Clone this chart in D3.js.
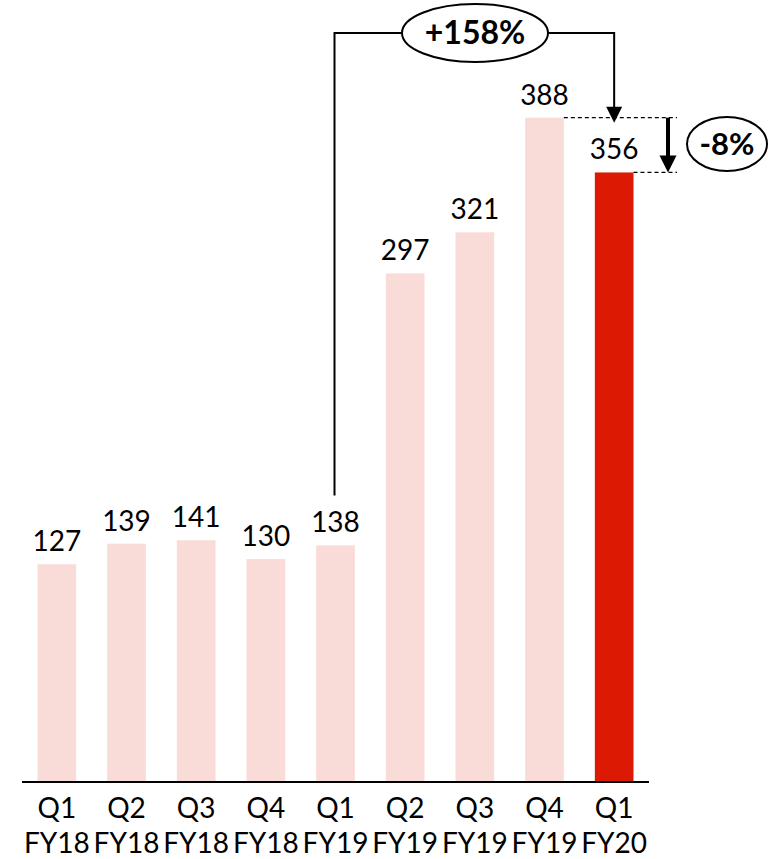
<!DOCTYPE html>
<html>
<head>
<meta charset="utf-8">
<script src="https://cdn.jsdelivr.net/npm/d3@7"></script>
<style>
  html, body { margin: 0; padding: 0; background: #fff; }
  svg { display: block; font-family: Lato, "Open Sans", sans-serif; }
</style>
</head>
<body>
<svg id="chart" width="768" height="859"></svg>
<script>
// ---- data ----
const quarters = ["Q1", "Q2", "Q3", "Q4", "Q1", "Q2", "Q3", "Q4", "Q1"];
const fiscalYears = ["FY18", "FY18", "FY18", "FY18", "FY19", "FY19", "FY19", "FY19", "FY20"];
const values = [127, 139, 141, 130, 138, 297, 321, 388, 356];
const highlightIndex = 8;
const growthLabel = "+158%";   // Q1 FY19 -> Q1 FY20
const growthFrom = 4;
const growthTo = 8;
const changeLabel = "-8%";     // Q4 FY19 -> Q1 FY20
const changeFrom = 7;
const changeTo = 8;

const lightColor = "#F9DBD7";
const darkColor = "#DC1A04";

const svg = d3.select("#chart");

const x = d3.scaleBand()
  .domain(d3.range(values.length))
  .range([22, 649])
  .paddingInner(0.445)
  .paddingOuter(0.2225);

const y = d3.scaleLinear()
  .domain([0, 388])
  .range([781.5, 117.7]);

const bw = x.bandwidth();

// bars
svg.append("g").selectAll("rect")
  .data(values)
  .join("rect")
  .attr("x", (d, i) => x(i))
  .attr("y", d => y(d))
  .attr("width", bw)
  .attr("height", d => y(0) - y(d))
  .attr("fill", (d, i) => i === highlightIndex ? darkColor : lightColor);

// value labels
svg.append("g").selectAll("text")
  .data(values)
  .join("text")
  .attr("x", (d, i) => x(i) + bw / 2)
  .attr("y", d => y(d) - 13)
  .attr("text-anchor", "middle")
  .attr("font-size", 28)
  .attr("fill", "#000")
  .text(d => d);

// x axis baseline
svg.append("line")
  .attr("x1", 22).attr("x2", 649)
  .attr("y1", y(0) + 0.5).attr("y2", y(0) + 0.5)
  .attr("stroke", "#000").attr("stroke-width", 2);

// category labels
const cat = svg.append("g").selectAll("text")
  .data(quarters)
  .join("text")
  .attr("x", (d, i) => x(i) + bw / 2)
  .attr("text-anchor", "middle")
  .attr("font-size", 28)
  .attr("fill", "#000");
cat.append("tspan").attr("x", (d, i) => x(i) + bw / 2).attr("y", 818).text(d => d);
cat.append("tspan").attr("x", (d, i) => x(i) + bw / 2).attr("y", 853).text((d, i) => fiscalYears[i]);

// ---- growth bracket annotation ----
const bx1 = x(growthFrom) + bw / 2 - 1;
const bx2 = x(growthTo) + bw / 2;
const by = 33;
const ex = 475, erx = 73, ery = 29;
const g1 = svg.append("g").attr("stroke", "#000").attr("stroke-width", 2).attr("fill", "none");
g1.append("path")
  .attr("d", `M${bx1},${y(values[growthFrom]) - 50} L${bx1},${by} L${ex - erx},${by}`);
g1.append("path")
  .attr("d", `M${ex + erx},${by} L${bx2},${by} L${bx2},${y(values[changeFrom]) - 10}`);
svg.append("path")
  .attr("d", `M${bx2 - 8},${y(values[changeFrom]) - 11} L${bx2 + 8},${y(values[changeFrom]) - 11} L${bx2},${y(values[changeFrom]) + 5} Z`)
  .attr("fill", "#000");
svg.append("ellipse")
  .attr("cx", ex).attr("cy", by).attr("rx", erx).attr("ry", ery)
  .attr("fill", "#fff").attr("stroke", "#000").attr("stroke-width", 2);
svg.append("text")
  .attr("x", ex).attr("y", by + 11)
  .attr("text-anchor", "middle")
  .attr("font-size", 32).attr("font-weight", "bold")
  .text(growthLabel);

// ---- change annotation ----
const dashEnd = 677;
const yTop = y(values[changeFrom]);
const yBot = y(values[changeTo]);
svg.append("line")
  .attr("x1", x(changeFrom) + bw).attr("x2", dashEnd)
  .attr("y1", yTop).attr("y2", yTop)
  .attr("stroke", "#000").attr("stroke-width", 1.2).attr("stroke-dasharray", "4,3");
svg.append("line")
  .attr("x1", x(changeTo) + bw).attr("x2", dashEnd)
  .attr("y1", yBot).attr("y2", yBot)
  .attr("stroke", "#000").attr("stroke-width", 1.2).attr("stroke-dasharray", "4,3");
const ax = 668;
svg.append("line")
  .attr("x1", ax).attr("x2", ax)
  .attr("y1", yTop).attr("y2", yBot - 16)
  .attr("stroke", "#000").attr("stroke-width", 4);
svg.append("path")
  .attr("d", `M${ax - 8.5},${yBot - 17} L${ax + 8.5},${yBot - 17} L${ax},${yBot} Z`)
  .attr("fill", "#000");
const cx2 = 727, cy2 = 144;
svg.append("ellipse")
  .attr("cx", cx2).attr("cy", cy2).attr("rx", 40).attr("ry", 27)
  .attr("fill", "#fff").attr("stroke", "#000").attr("stroke-width", 2);
svg.append("text")
  .attr("x", cx2).attr("y", cy2 + 11)
  .attr("text-anchor", "middle")
  .attr("font-size", 31).attr("font-weight", "bold")
  .text(changeLabel);
</script>
</body>
</html>
